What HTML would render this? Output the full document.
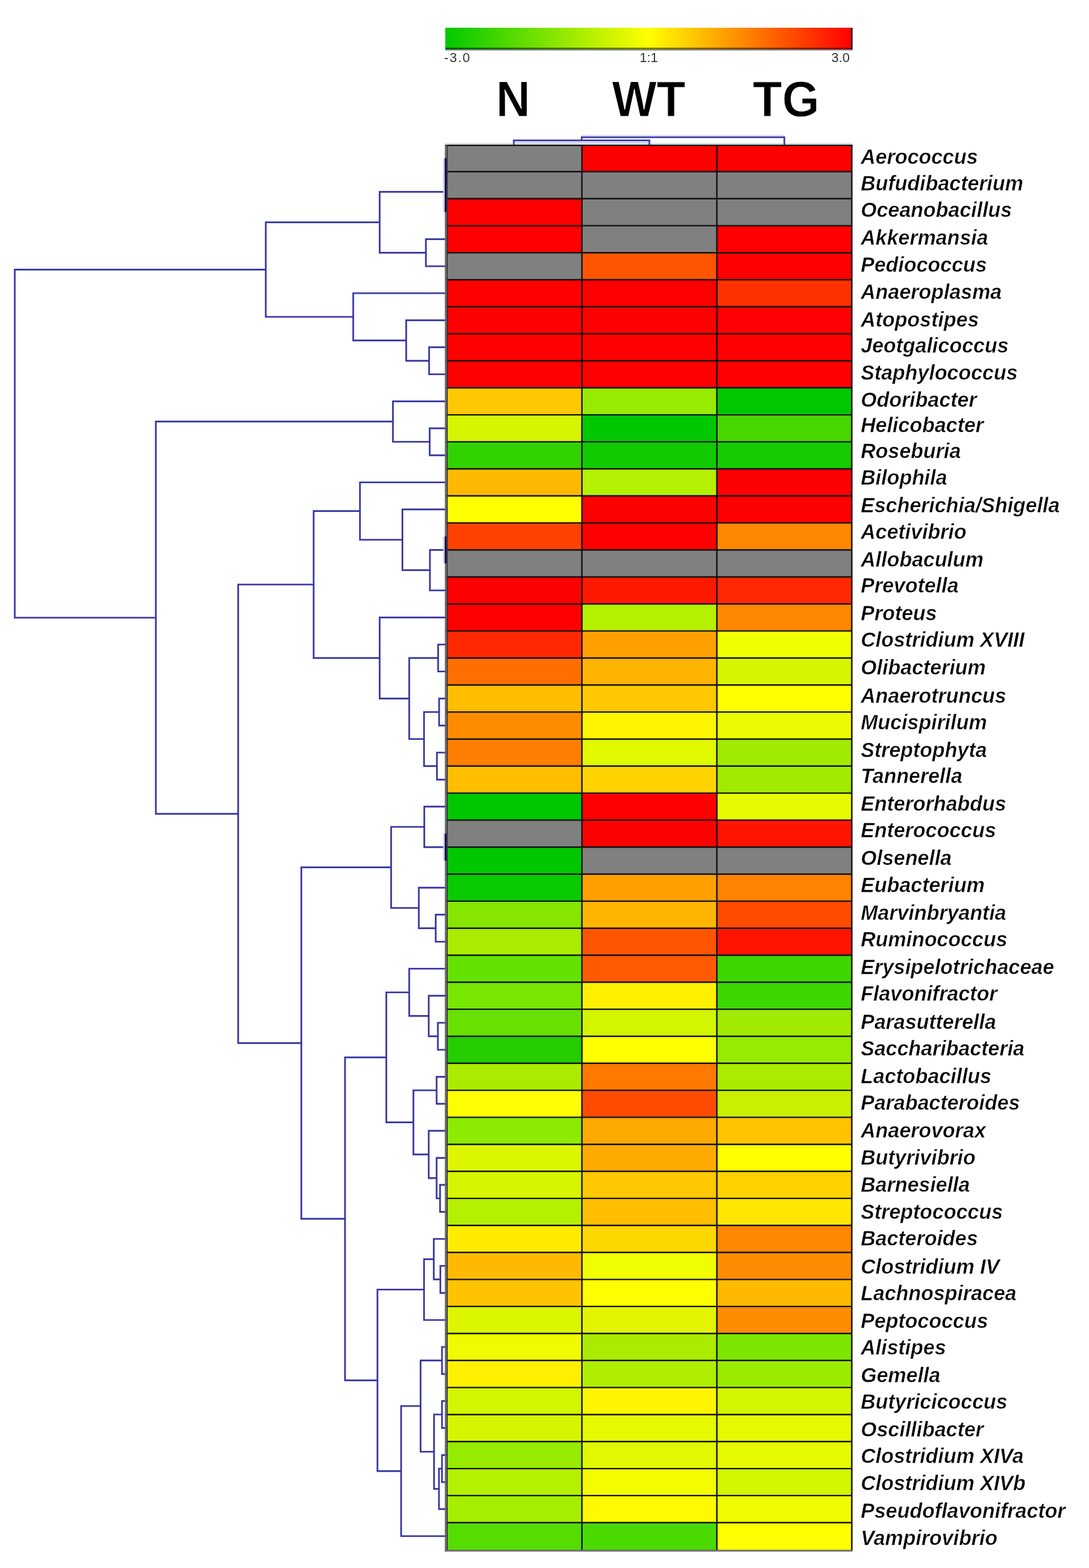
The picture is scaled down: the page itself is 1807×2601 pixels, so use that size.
<!DOCTYPE html><html><head><meta charset="utf-8"><style>html,body{margin:0;padding:0;background:#fff;}svg{display:block}</style></head><body>
<svg width="1807" height="2601" viewBox="0 0 1807 2601">
<defs><linearGradient id="cb" x1="0" x2="1" y1="0" y2="0"><stop offset="0" stop-color="#00c800"/><stop offset="0.5" stop-color="#ffff00"/><stop offset="1" stop-color="#ff0000"/></linearGradient><linearGradient id="cbd" x1="0" x2="1" y1="0" y2="0"><stop offset="0" stop-color="#006000"/><stop offset="0.5" stop-color="#808000"/><stop offset="1" stop-color="#900000"/></linearGradient></defs>
<rect width="1807" height="2601" fill="#fff"/>
<rect x="738.8" y="46" width="674" height="33" fill="url(#cb)"/>
<rect x="738.8" y="79" width="674" height="3" fill="url(#cbd)"/>
<rect x="738.8" y="82" width="676" height="1.8" fill="#80909a"/>
<rect x="1412.2" y="46" width="2.5" height="36" fill="#201010"/>
<g font-family="Liberation Sans, Arial, sans-serif" font-size="22" fill="#333">
<text x="737" y="103" letter-spacing="1.6">-3.0</text>
<text x="1076.5" y="103" text-anchor="middle">1:1</text>
<text x="1410" y="103" text-anchor="end">3.0</text>
</g>
<g font-family="Liberation Sans, Arial, sans-serif" font-size="78.6" font-weight="bold" fill="#000" text-anchor="middle" stroke="#fff" stroke-width="0.9">
<text transform="translate(851.4 193.2) scale(1 1.065)">N</text><text transform="translate(1076.5 193.2) scale(1 1.065)">WT</text><text transform="translate(1304.3 193.2) scale(1.015 1.065)">TG</text>
</g>
<path d="M706.7 396.8L740.0 396.8M706.7 441.6L740.0 441.6M706.7 396.8L706.7 441.6M630.0 318.3L740.0 318.3M630.0 419.2L706.7 419.2M630.0 318.3L630.0 419.2M712.0 576.0L740.0 576.0M712.0 620.9L740.0 620.9M712.0 576.0L712.0 620.9M674.0 531.2L740.0 531.2M674.0 598.5L712.0 598.5M674.0 531.2L674.0 598.5M586.1 486.4L740.0 486.4M586.1 564.8L674.0 564.8M586.1 486.4L586.1 564.8M441.0 368.8L630.0 368.8M441.0 525.6L586.1 525.6M441.0 368.8L441.0 525.6M713.0 710.5L740.0 710.5M713.0 755.3L740.0 755.3M713.0 710.5L713.0 755.3M652.0 665.7L740.0 665.7M652.0 732.9L713.0 732.9M652.0 665.7L652.0 732.9M713.4 912.2L740.0 912.2M713.4 979.4L740.0 979.4M713.4 912.2L713.4 979.4M667.8 845.0L740.0 845.0M667.8 945.8L713.4 945.8M667.8 845.0L667.8 945.8M597.3 800.1L740.0 800.1M597.3 895.4L667.8 895.4M597.3 800.1L597.3 895.4M727.0 1069.1L740.0 1069.1M727.0 1113.9L740.0 1113.9M727.0 1069.1L727.0 1113.9M728.6 1158.7L740.0 1158.7M728.6 1203.5L740.0 1203.5M728.6 1158.7L728.6 1203.5M725.0 1248.4L740.0 1248.4M725.0 1293.2L740.0 1293.2M725.0 1248.4L725.0 1293.2M703.6 1181.1L728.6 1181.1M703.6 1270.8L725.0 1270.8M703.6 1181.1L703.6 1270.8M679.0 1091.5L727.0 1091.5M679.0 1225.9L703.6 1225.9M679.0 1091.5L679.0 1225.9M630.0 1024.2L740.0 1024.2M630.0 1158.7L679.0 1158.7M630.0 1024.2L630.0 1158.7M520.4 847.8L597.3 847.8M520.4 1091.5L630.0 1091.5M520.4 847.8L520.4 1091.5M704.0 1338.0L740.0 1338.0M704.0 1405.2L740.0 1405.2M704.0 1338.0L704.0 1405.2M723.0 1517.3L740.0 1517.3M723.0 1562.1L740.0 1562.1M723.0 1517.3L723.0 1562.1M695.0 1472.5L740.0 1472.5M695.0 1539.7L723.0 1539.7M695.0 1472.5L695.0 1539.7M649.0 1371.6L704.0 1371.6M649.0 1506.1L695.0 1506.1M649.0 1371.6L649.0 1506.1M726.6 1696.6L740.0 1696.6M726.6 1741.4L740.0 1741.4M726.6 1696.6L726.6 1741.4M711.4 1651.7L740.0 1651.7M711.4 1719.0L726.6 1719.0M711.4 1651.7L711.4 1719.0M679.0 1606.9L740.0 1606.9M679.0 1685.3L711.4 1685.3M679.0 1606.9L679.0 1685.3M724.5 1786.2L740.0 1786.2M724.5 1831.0L740.0 1831.0M724.5 1786.2L724.5 1831.0M730.2 1965.5L740.0 1965.5M730.2 2010.3L740.0 2010.3M730.2 1965.5L730.2 2010.3M724.5 1920.7L740.0 1920.7M724.5 1987.9L730.2 1987.9M724.5 1920.7L724.5 1987.9M711.4 1875.8L740.0 1875.8M711.4 1954.3L724.5 1954.3M711.4 1875.8L711.4 1954.3M686.0 1808.6L724.5 1808.6M686.0 1915.0L711.4 1915.0M686.0 1808.6L686.0 1915.0M641.0 1646.1L679.0 1646.1M641.0 1861.8L686.0 1861.8M641.0 1646.1L641.0 1861.8M730.7 2099.9L740.0 2099.9M730.7 2144.8L740.0 2144.8M730.7 2099.9L730.7 2144.8M719.8 2055.1L740.0 2055.1M719.8 2122.3L730.7 2122.3M719.8 2055.1L719.8 2122.3M703.6 2088.7L719.8 2088.7M703.6 2189.6L740.0 2189.6M703.6 2088.7L703.6 2189.6M733.4 2234.4L740.0 2234.4M733.4 2279.2L740.0 2279.2M733.4 2234.4L733.4 2279.2M733.4 2324.0L740.0 2324.0M733.4 2368.8L740.0 2368.8M733.4 2324.0L733.4 2368.8M733.4 2413.7L740.0 2413.7M733.4 2458.5L740.0 2458.5M733.4 2413.7L733.4 2458.5M728.4 2436.1L733.4 2436.1M728.4 2503.3L740.0 2503.3M728.4 2436.1L728.4 2503.3M720.2 2346.4L733.4 2346.4M720.2 2469.7L728.4 2469.7M720.2 2346.4L720.2 2469.7M697.9 2256.8L733.4 2256.8M697.9 2408.1L720.2 2408.1M697.9 2256.8L697.9 2408.1M665.6 2332.4L697.9 2332.4M665.6 2548.1L740.0 2548.1M665.6 2332.4L665.6 2548.1M626.3 2139.1L703.6 2139.1M626.3 2440.3L665.6 2440.3M626.3 2139.1L626.3 2440.3M572.5 1754.0L641.0 1754.0M572.5 2289.7L626.3 2289.7M572.5 1754.0L572.5 2289.7M500.0 1438.8L649.0 1438.8M500.0 2021.8L572.5 2021.8M500.0 1438.8L500.0 2021.8M395.2 969.6L520.4 969.6M395.2 1730.3L500.0 1730.3M395.2 969.6L395.2 1730.3M258.6 699.3L652.0 699.3M258.6 1350.0L395.2 1350.0M258.6 699.3L258.6 1350.0M24.5 447.2L441.0 447.2M24.5 1024.6L258.6 1024.6M24.5 447.2L24.5 1024.6" stroke="#d4d4f0" stroke-width="3.9" fill="none" stroke-linecap="square"/>
<path d="M706.7 396.8L740.0 396.8M706.7 441.6L740.0 441.6M706.7 396.8L706.7 441.6M630.0 318.3L740.0 318.3M630.0 419.2L706.7 419.2M630.0 318.3L630.0 419.2M712.0 576.0L740.0 576.0M712.0 620.9L740.0 620.9M712.0 576.0L712.0 620.9M674.0 531.2L740.0 531.2M674.0 598.5L712.0 598.5M674.0 531.2L674.0 598.5M586.1 486.4L740.0 486.4M586.1 564.8L674.0 564.8M586.1 486.4L586.1 564.8M441.0 368.8L630.0 368.8M441.0 525.6L586.1 525.6M441.0 368.8L441.0 525.6M713.0 710.5L740.0 710.5M713.0 755.3L740.0 755.3M713.0 710.5L713.0 755.3M652.0 665.7L740.0 665.7M652.0 732.9L713.0 732.9M652.0 665.7L652.0 732.9M713.4 912.2L740.0 912.2M713.4 979.4L740.0 979.4M713.4 912.2L713.4 979.4M667.8 845.0L740.0 845.0M667.8 945.8L713.4 945.8M667.8 845.0L667.8 945.8M597.3 800.1L740.0 800.1M597.3 895.4L667.8 895.4M597.3 800.1L597.3 895.4M727.0 1069.1L740.0 1069.1M727.0 1113.9L740.0 1113.9M727.0 1069.1L727.0 1113.9M728.6 1158.7L740.0 1158.7M728.6 1203.5L740.0 1203.5M728.6 1158.7L728.6 1203.5M725.0 1248.4L740.0 1248.4M725.0 1293.2L740.0 1293.2M725.0 1248.4L725.0 1293.2M703.6 1181.1L728.6 1181.1M703.6 1270.8L725.0 1270.8M703.6 1181.1L703.6 1270.8M679.0 1091.5L727.0 1091.5M679.0 1225.9L703.6 1225.9M679.0 1091.5L679.0 1225.9M630.0 1024.2L740.0 1024.2M630.0 1158.7L679.0 1158.7M630.0 1024.2L630.0 1158.7M520.4 847.8L597.3 847.8M520.4 1091.5L630.0 1091.5M520.4 847.8L520.4 1091.5M704.0 1338.0L740.0 1338.0M704.0 1405.2L740.0 1405.2M704.0 1338.0L704.0 1405.2M723.0 1517.3L740.0 1517.3M723.0 1562.1L740.0 1562.1M723.0 1517.3L723.0 1562.1M695.0 1472.5L740.0 1472.5M695.0 1539.7L723.0 1539.7M695.0 1472.5L695.0 1539.7M649.0 1371.6L704.0 1371.6M649.0 1506.1L695.0 1506.1M649.0 1371.6L649.0 1506.1M726.6 1696.6L740.0 1696.6M726.6 1741.4L740.0 1741.4M726.6 1696.6L726.6 1741.4M711.4 1651.7L740.0 1651.7M711.4 1719.0L726.6 1719.0M711.4 1651.7L711.4 1719.0M679.0 1606.9L740.0 1606.9M679.0 1685.3L711.4 1685.3M679.0 1606.9L679.0 1685.3M724.5 1786.2L740.0 1786.2M724.5 1831.0L740.0 1831.0M724.5 1786.2L724.5 1831.0M730.2 1965.5L740.0 1965.5M730.2 2010.3L740.0 2010.3M730.2 1965.5L730.2 2010.3M724.5 1920.7L740.0 1920.7M724.5 1987.9L730.2 1987.9M724.5 1920.7L724.5 1987.9M711.4 1875.8L740.0 1875.8M711.4 1954.3L724.5 1954.3M711.4 1875.8L711.4 1954.3M686.0 1808.6L724.5 1808.6M686.0 1915.0L711.4 1915.0M686.0 1808.6L686.0 1915.0M641.0 1646.1L679.0 1646.1M641.0 1861.8L686.0 1861.8M641.0 1646.1L641.0 1861.8M730.7 2099.9L740.0 2099.9M730.7 2144.8L740.0 2144.8M730.7 2099.9L730.7 2144.8M719.8 2055.1L740.0 2055.1M719.8 2122.3L730.7 2122.3M719.8 2055.1L719.8 2122.3M703.6 2088.7L719.8 2088.7M703.6 2189.6L740.0 2189.6M703.6 2088.7L703.6 2189.6M733.4 2234.4L740.0 2234.4M733.4 2279.2L740.0 2279.2M733.4 2234.4L733.4 2279.2M733.4 2324.0L740.0 2324.0M733.4 2368.8L740.0 2368.8M733.4 2324.0L733.4 2368.8M733.4 2413.7L740.0 2413.7M733.4 2458.5L740.0 2458.5M733.4 2413.7L733.4 2458.5M728.4 2436.1L733.4 2436.1M728.4 2503.3L740.0 2503.3M728.4 2436.1L728.4 2503.3M720.2 2346.4L733.4 2346.4M720.2 2469.7L728.4 2469.7M720.2 2346.4L720.2 2469.7M697.9 2256.8L733.4 2256.8M697.9 2408.1L720.2 2408.1M697.9 2256.8L697.9 2408.1M665.6 2332.4L697.9 2332.4M665.6 2548.1L740.0 2548.1M665.6 2332.4L665.6 2548.1M626.3 2139.1L703.6 2139.1M626.3 2440.3L665.6 2440.3M626.3 2139.1L626.3 2440.3M572.5 1754.0L641.0 1754.0M572.5 2289.7L626.3 2289.7M572.5 1754.0L572.5 2289.7M500.0 1438.8L649.0 1438.8M500.0 2021.8L572.5 2021.8M500.0 1438.8L500.0 2021.8M395.2 969.6L520.4 969.6M395.2 1730.3L500.0 1730.3M395.2 969.6L395.2 1730.3M258.6 699.3L652.0 699.3M258.6 1350.0L395.2 1350.0M258.6 699.3L258.6 1350.0M24.5 447.2L441.0 447.2M24.5 1024.6L258.6 1024.6M24.5 447.2L24.5 1024.6" stroke="#2e2e9e" stroke-width="2.4" fill="none" stroke-linecap="square"/>
<g shape-rendering="crispEdges">
<rect x="740.5" y="240.00" width="225.0" height="44.72" fill="#808080"/>
<rect x="965.5" y="240.00" width="224.0" height="44.72" fill="#ff0000"/>
<rect x="1189.5" y="240.00" width="224.0" height="44.72" fill="#ff0000"/>
<rect x="740.5" y="284.72" width="225.0" height="44.82" fill="#808080"/>
<rect x="965.5" y="284.72" width="224.0" height="44.82" fill="#808080"/>
<rect x="1189.5" y="284.72" width="224.0" height="44.82" fill="#808080"/>
<rect x="740.5" y="329.54" width="225.0" height="44.82" fill="#ff0000"/>
<rect x="965.5" y="329.54" width="224.0" height="44.82" fill="#808080"/>
<rect x="1189.5" y="329.54" width="224.0" height="44.82" fill="#808080"/>
<rect x="740.5" y="374.36" width="225.0" height="44.82" fill="#ff0000"/>
<rect x="965.5" y="374.36" width="224.0" height="44.82" fill="#808080"/>
<rect x="1189.5" y="374.36" width="224.0" height="44.82" fill="#ff0000"/>
<rect x="740.5" y="419.18" width="225.0" height="44.82" fill="#808080"/>
<rect x="965.5" y="419.18" width="224.0" height="44.82" fill="#ff5500"/>
<rect x="1189.5" y="419.18" width="224.0" height="44.82" fill="#ff0000"/>
<rect x="740.5" y="464.00" width="225.0" height="44.82" fill="#ff0000"/>
<rect x="965.5" y="464.00" width="224.0" height="44.82" fill="#ff0000"/>
<rect x="1189.5" y="464.00" width="224.0" height="44.82" fill="#ff3000"/>
<rect x="740.5" y="508.82" width="225.0" height="44.82" fill="#ff0000"/>
<rect x="965.5" y="508.82" width="224.0" height="44.82" fill="#ff0000"/>
<rect x="1189.5" y="508.82" width="224.0" height="44.82" fill="#ff0000"/>
<rect x="740.5" y="553.64" width="225.0" height="44.82" fill="#ff0000"/>
<rect x="965.5" y="553.64" width="224.0" height="44.82" fill="#ff0000"/>
<rect x="1189.5" y="553.64" width="224.0" height="44.82" fill="#ff0000"/>
<rect x="740.5" y="598.46" width="225.0" height="44.82" fill="#ff0000"/>
<rect x="965.5" y="598.46" width="224.0" height="44.82" fill="#ff0000"/>
<rect x="1189.5" y="598.46" width="224.0" height="44.82" fill="#ff0000"/>
<rect x="740.5" y="643.28" width="225.0" height="44.82" fill="#ffc800"/>
<rect x="965.5" y="643.28" width="224.0" height="44.82" fill="#96eb00"/>
<rect x="1189.5" y="643.28" width="224.0" height="44.82" fill="#00c800"/>
<rect x="740.5" y="688.10" width="225.0" height="44.82" fill="#d7f500"/>
<rect x="965.5" y="688.10" width="224.0" height="44.82" fill="#00c800"/>
<rect x="1189.5" y="688.10" width="224.0" height="44.82" fill="#46d700"/>
<rect x="740.5" y="732.92" width="225.0" height="44.82" fill="#32d200"/>
<rect x="965.5" y="732.92" width="224.0" height="44.82" fill="#0fcb00"/>
<rect x="1189.5" y="732.92" width="224.0" height="44.82" fill="#14cc00"/>
<rect x="740.5" y="777.74" width="225.0" height="44.82" fill="#ffb900"/>
<rect x="965.5" y="777.74" width="224.0" height="44.82" fill="#b4f000"/>
<rect x="1189.5" y="777.74" width="224.0" height="44.82" fill="#ff0000"/>
<rect x="740.5" y="822.56" width="225.0" height="44.82" fill="#ffff00"/>
<rect x="965.5" y="822.56" width="224.0" height="44.82" fill="#ff0000"/>
<rect x="1189.5" y="822.56" width="224.0" height="44.82" fill="#ff0000"/>
<rect x="740.5" y="867.38" width="225.0" height="44.82" fill="#ff4100"/>
<rect x="965.5" y="867.38" width="224.0" height="44.82" fill="#ff0000"/>
<rect x="1189.5" y="867.38" width="224.0" height="44.82" fill="#ff8700"/>
<rect x="740.5" y="912.20" width="225.0" height="44.82" fill="#808080"/>
<rect x="965.5" y="912.20" width="224.0" height="44.82" fill="#808080"/>
<rect x="1189.5" y="912.20" width="224.0" height="44.82" fill="#808080"/>
<rect x="740.5" y="957.02" width="225.0" height="44.82" fill="#ff0000"/>
<rect x="965.5" y="957.02" width="224.0" height="44.82" fill="#ff1900"/>
<rect x="1189.5" y="957.02" width="224.0" height="44.82" fill="#ff2800"/>
<rect x="740.5" y="1001.84" width="225.0" height="44.82" fill="#ff0000"/>
<rect x="965.5" y="1001.84" width="224.0" height="44.82" fill="#b4f000"/>
<rect x="1189.5" y="1001.84" width="224.0" height="44.82" fill="#ff8700"/>
<rect x="740.5" y="1046.66" width="225.0" height="44.82" fill="#ff2800"/>
<rect x="965.5" y="1046.66" width="224.0" height="44.82" fill="#ffa000"/>
<rect x="1189.5" y="1046.66" width="224.0" height="44.82" fill="#f0ff00"/>
<rect x="740.5" y="1091.48" width="225.0" height="44.82" fill="#ff6e00"/>
<rect x="965.5" y="1091.48" width="224.0" height="44.82" fill="#ffb400"/>
<rect x="1189.5" y="1091.48" width="224.0" height="44.82" fill="#d7f500"/>
<rect x="740.5" y="1136.30" width="225.0" height="44.82" fill="#ffbe00"/>
<rect x="965.5" y="1136.30" width="224.0" height="44.82" fill="#ffc800"/>
<rect x="1189.5" y="1136.30" width="224.0" height="44.82" fill="#ffff00"/>
<rect x="740.5" y="1181.12" width="225.0" height="44.82" fill="#ff8c00"/>
<rect x="965.5" y="1181.12" width="224.0" height="44.82" fill="#fff500"/>
<rect x="1189.5" y="1181.12" width="224.0" height="44.82" fill="#ebfa00"/>
<rect x="740.5" y="1225.94" width="225.0" height="44.82" fill="#ff7d00"/>
<rect x="965.5" y="1225.94" width="224.0" height="44.82" fill="#e1fa00"/>
<rect x="1189.5" y="1225.94" width="224.0" height="44.82" fill="#a0eb00"/>
<rect x="740.5" y="1270.76" width="225.0" height="44.82" fill="#ffbe00"/>
<rect x="965.5" y="1270.76" width="224.0" height="44.82" fill="#ffd200"/>
<rect x="1189.5" y="1270.76" width="224.0" height="44.82" fill="#a0eb00"/>
<rect x="740.5" y="1315.58" width="225.0" height="44.82" fill="#00c800"/>
<rect x="965.5" y="1315.58" width="224.0" height="44.82" fill="#ff0000"/>
<rect x="1189.5" y="1315.58" width="224.0" height="44.82" fill="#e6fa00"/>
<rect x="740.5" y="1360.40" width="225.0" height="44.82" fill="#808080"/>
<rect x="965.5" y="1360.40" width="224.0" height="44.82" fill="#ff0000"/>
<rect x="1189.5" y="1360.40" width="224.0" height="44.82" fill="#ff1400"/>
<rect x="740.5" y="1405.22" width="225.0" height="44.82" fill="#00c800"/>
<rect x="965.5" y="1405.22" width="224.0" height="44.82" fill="#808080"/>
<rect x="1189.5" y="1405.22" width="224.0" height="44.82" fill="#808080"/>
<rect x="740.5" y="1450.04" width="225.0" height="44.82" fill="#0aca00"/>
<rect x="965.5" y="1450.04" width="224.0" height="44.82" fill="#ffa000"/>
<rect x="1189.5" y="1450.04" width="224.0" height="44.82" fill="#ff8200"/>
<rect x="740.5" y="1494.86" width="225.0" height="44.82" fill="#87e600"/>
<rect x="965.5" y="1494.86" width="224.0" height="44.82" fill="#ffb400"/>
<rect x="1189.5" y="1494.86" width="224.0" height="44.82" fill="#ff4b00"/>
<rect x="740.5" y="1539.68" width="225.0" height="44.82" fill="#aaeb00"/>
<rect x="965.5" y="1539.68" width="224.0" height="44.82" fill="#ff5500"/>
<rect x="1189.5" y="1539.68" width="224.0" height="44.82" fill="#ff1400"/>
<rect x="740.5" y="1584.50" width="225.0" height="44.82" fill="#64e100"/>
<rect x="965.5" y="1584.50" width="224.0" height="44.82" fill="#ff5a00"/>
<rect x="1189.5" y="1584.50" width="224.0" height="44.82" fill="#3cd700"/>
<rect x="740.5" y="1629.32" width="225.0" height="44.82" fill="#78e600"/>
<rect x="965.5" y="1629.32" width="224.0" height="44.82" fill="#fff000"/>
<rect x="1189.5" y="1629.32" width="224.0" height="44.82" fill="#3cd700"/>
<rect x="740.5" y="1674.14" width="225.0" height="44.82" fill="#69e100"/>
<rect x="965.5" y="1674.14" width="224.0" height="44.82" fill="#d2f500"/>
<rect x="1189.5" y="1674.14" width="224.0" height="44.82" fill="#a0eb00"/>
<rect x="740.5" y="1718.96" width="225.0" height="44.82" fill="#23cd00"/>
<rect x="965.5" y="1718.96" width="224.0" height="44.82" fill="#ffff00"/>
<rect x="1189.5" y="1718.96" width="224.0" height="44.82" fill="#96eb00"/>
<rect x="740.5" y="1763.78" width="225.0" height="44.82" fill="#aaeb00"/>
<rect x="965.5" y="1763.78" width="224.0" height="44.82" fill="#ff7800"/>
<rect x="1189.5" y="1763.78" width="224.0" height="44.82" fill="#aaeb00"/>
<rect x="740.5" y="1808.60" width="225.0" height="44.82" fill="#ffff00"/>
<rect x="965.5" y="1808.60" width="224.0" height="44.82" fill="#ff4b00"/>
<rect x="1189.5" y="1808.60" width="224.0" height="44.82" fill="#c8f000"/>
<rect x="740.5" y="1853.42" width="225.0" height="44.82" fill="#8ceb00"/>
<rect x="965.5" y="1853.42" width="224.0" height="44.82" fill="#ffaa00"/>
<rect x="1189.5" y="1853.42" width="224.0" height="44.82" fill="#ffc300"/>
<rect x="740.5" y="1898.24" width="225.0" height="44.82" fill="#dcf500"/>
<rect x="965.5" y="1898.24" width="224.0" height="44.82" fill="#ffaa00"/>
<rect x="1189.5" y="1898.24" width="224.0" height="44.82" fill="#ffff00"/>
<rect x="740.5" y="1943.06" width="225.0" height="44.82" fill="#d7f500"/>
<rect x="965.5" y="1943.06" width="224.0" height="44.82" fill="#ffc800"/>
<rect x="1189.5" y="1943.06" width="224.0" height="44.82" fill="#ffd200"/>
<rect x="740.5" y="1987.88" width="225.0" height="44.82" fill="#b4f000"/>
<rect x="965.5" y="1987.88" width="224.0" height="44.82" fill="#ffbe00"/>
<rect x="1189.5" y="1987.88" width="224.0" height="44.82" fill="#ffe600"/>
<rect x="740.5" y="2032.70" width="225.0" height="44.82" fill="#ffeb00"/>
<rect x="965.5" y="2032.70" width="224.0" height="44.82" fill="#ffd700"/>
<rect x="1189.5" y="2032.70" width="224.0" height="44.82" fill="#ff8700"/>
<rect x="740.5" y="2077.52" width="225.0" height="44.82" fill="#ffb900"/>
<rect x="965.5" y="2077.52" width="224.0" height="44.82" fill="#f0ff00"/>
<rect x="1189.5" y="2077.52" width="224.0" height="44.82" fill="#ff8c00"/>
<rect x="740.5" y="2122.34" width="225.0" height="44.82" fill="#ffc300"/>
<rect x="965.5" y="2122.34" width="224.0" height="44.82" fill="#ffff00"/>
<rect x="1189.5" y="2122.34" width="224.0" height="44.82" fill="#ffb900"/>
<rect x="740.5" y="2167.16" width="225.0" height="44.82" fill="#dcf500"/>
<rect x="965.5" y="2167.16" width="224.0" height="44.82" fill="#e1f500"/>
<rect x="1189.5" y="2167.16" width="224.0" height="44.82" fill="#ff8c00"/>
<rect x="740.5" y="2211.98" width="225.0" height="44.82" fill="#f0fa00"/>
<rect x="965.5" y="2211.98" width="224.0" height="44.82" fill="#aaeb00"/>
<rect x="1189.5" y="2211.98" width="224.0" height="44.82" fill="#7de600"/>
<rect x="740.5" y="2256.80" width="225.0" height="44.82" fill="#fff000"/>
<rect x="965.5" y="2256.80" width="224.0" height="44.82" fill="#afee00"/>
<rect x="1189.5" y="2256.80" width="224.0" height="44.82" fill="#9beb00"/>
<rect x="740.5" y="2301.62" width="225.0" height="44.82" fill="#d2f500"/>
<rect x="965.5" y="2301.62" width="224.0" height="44.82" fill="#fff500"/>
<rect x="1189.5" y="2301.62" width="224.0" height="44.82" fill="#d2f500"/>
<rect x="740.5" y="2346.44" width="225.0" height="44.82" fill="#d7f500"/>
<rect x="965.5" y="2346.44" width="224.0" height="44.82" fill="#e6fa00"/>
<rect x="1189.5" y="2346.44" width="224.0" height="44.82" fill="#e6fa00"/>
<rect x="740.5" y="2391.26" width="225.0" height="44.82" fill="#96eb00"/>
<rect x="965.5" y="2391.26" width="224.0" height="44.82" fill="#e1f800"/>
<rect x="1189.5" y="2391.26" width="224.0" height="44.82" fill="#e6fa00"/>
<rect x="740.5" y="2436.08" width="225.0" height="44.82" fill="#b4f000"/>
<rect x="965.5" y="2436.08" width="224.0" height="44.82" fill="#f5fc00"/>
<rect x="1189.5" y="2436.08" width="224.0" height="44.82" fill="#d2f500"/>
<rect x="740.5" y="2480.90" width="225.0" height="44.82" fill="#a5ee00"/>
<rect x="965.5" y="2480.90" width="224.0" height="44.82" fill="#fffa00"/>
<rect x="1189.5" y="2480.90" width="224.0" height="44.82" fill="#f0fc00"/>
<rect x="740.5" y="2525.72" width="225.0" height="46.28" fill="#55dc00"/>
<rect x="965.5" y="2525.72" width="224.0" height="46.28" fill="#4bda00"/>
<rect x="1189.5" y="2525.72" width="224.0" height="46.28" fill="#ffff00"/>
</g>
<rect x="738" y="237.2" width="676" height="2.8" fill="#d8dcd8"/>
<g stroke="#111" stroke-width="2.4">
<line x1="740.5" y1="284.72" x2="1413.5" y2="284.72"/>
<line x1="740.5" y1="329.54" x2="1413.5" y2="329.54"/>
<line x1="740.5" y1="374.36" x2="1413.5" y2="374.36"/>
<line x1="740.5" y1="419.18" x2="1413.5" y2="419.18"/>
<line x1="740.5" y1="464.00" x2="1413.5" y2="464.00"/>
<line x1="740.5" y1="508.82" x2="1413.5" y2="508.82"/>
<line x1="740.5" y1="553.64" x2="1413.5" y2="553.64"/>
<line x1="740.5" y1="598.46" x2="1413.5" y2="598.46"/>
<line x1="740.5" y1="643.28" x2="1413.5" y2="643.28"/>
<line x1="740.5" y1="688.10" x2="1413.5" y2="688.10"/>
<line x1="740.5" y1="732.92" x2="1413.5" y2="732.92"/>
<line x1="740.5" y1="777.74" x2="1413.5" y2="777.74"/>
<line x1="740.5" y1="822.56" x2="1413.5" y2="822.56"/>
<line x1="740.5" y1="867.38" x2="1413.5" y2="867.38"/>
<line x1="740.5" y1="912.20" x2="1413.5" y2="912.20"/>
<line x1="740.5" y1="957.02" x2="1413.5" y2="957.02"/>
<line x1="740.5" y1="1001.84" x2="1413.5" y2="1001.84"/>
<line x1="740.5" y1="1046.66" x2="1413.5" y2="1046.66"/>
<line x1="740.5" y1="1091.48" x2="1413.5" y2="1091.48"/>
<line x1="740.5" y1="1136.30" x2="1413.5" y2="1136.30"/>
<line x1="740.5" y1="1181.12" x2="1413.5" y2="1181.12"/>
<line x1="740.5" y1="1225.94" x2="1413.5" y2="1225.94"/>
<line x1="740.5" y1="1270.76" x2="1413.5" y2="1270.76"/>
<line x1="740.5" y1="1315.58" x2="1413.5" y2="1315.58"/>
<line x1="740.5" y1="1360.40" x2="1413.5" y2="1360.40"/>
<line x1="740.5" y1="1405.22" x2="1413.5" y2="1405.22"/>
<line x1="740.5" y1="1450.04" x2="1413.5" y2="1450.04"/>
<line x1="740.5" y1="1494.86" x2="1413.5" y2="1494.86"/>
<line x1="740.5" y1="1539.68" x2="1413.5" y2="1539.68"/>
<line x1="740.5" y1="1584.50" x2="1413.5" y2="1584.50"/>
<line x1="740.5" y1="1629.32" x2="1413.5" y2="1629.32"/>
<line x1="740.5" y1="1674.14" x2="1413.5" y2="1674.14"/>
<line x1="740.5" y1="1718.96" x2="1413.5" y2="1718.96"/>
<line x1="740.5" y1="1763.78" x2="1413.5" y2="1763.78"/>
<line x1="740.5" y1="1808.60" x2="1413.5" y2="1808.60"/>
<line x1="740.5" y1="1853.42" x2="1413.5" y2="1853.42"/>
<line x1="740.5" y1="1898.24" x2="1413.5" y2="1898.24"/>
<line x1="740.5" y1="1943.06" x2="1413.5" y2="1943.06"/>
<line x1="740.5" y1="1987.88" x2="1413.5" y2="1987.88"/>
<line x1="740.5" y1="2032.70" x2="1413.5" y2="2032.70"/>
<line x1="740.5" y1="2077.52" x2="1413.5" y2="2077.52"/>
<line x1="740.5" y1="2122.34" x2="1413.5" y2="2122.34"/>
<line x1="740.5" y1="2167.16" x2="1413.5" y2="2167.16"/>
<line x1="740.5" y1="2211.98" x2="1413.5" y2="2211.98"/>
<line x1="740.5" y1="2256.80" x2="1413.5" y2="2256.80"/>
<line x1="740.5" y1="2301.62" x2="1413.5" y2="2301.62"/>
<line x1="740.5" y1="2346.44" x2="1413.5" y2="2346.44"/>
<line x1="740.5" y1="2391.26" x2="1413.5" y2="2391.26"/>
<line x1="740.5" y1="2436.08" x2="1413.5" y2="2436.08"/>
<line x1="740.5" y1="2480.90" x2="1413.5" y2="2480.90"/>
<line x1="740.5" y1="2525.72" x2="1413.5" y2="2525.72"/>
<line x1="965.6" y1="240" x2="965.6" y2="2572"/>
<line x1="1189.5" y1="240" x2="1189.5" y2="2572"/>
</g>
<line x1="738" y1="241.2" x2="1414.7" y2="241.2" stroke="#111" stroke-width="2.3"/>
<line x1="1413.4" y1="240" x2="1413.4" y2="2572" stroke="#221a1a" stroke-width="2.6"/>
<line x1="741.8" y1="240" x2="741.8" y2="2572" stroke="#333" stroke-width="2.1"/>
<line x1="739.4" y1="240" x2="739.4" y2="2573.7" stroke="#68686e" stroke-width="2.6"/>
<line x1="738" y1="2572.2" x2="1414.7" y2="2572.2" stroke="#6e6e6e" stroke-width="3"/>
<rect x="852.6" y="234" width="224.9" height="3.3" fill="#d2d2ec"/>
<rect x="965.3" y="223.8" width="336.2" height="2.5" fill="#dcdcf0"/>
<g stroke="#d4d4f0" stroke-width="4.2" fill="none">
<path d="M852.6 240V232.9H1077.5V240"/>
<path d="M965.3 232.9V227.6H1301.5V240"/>
</g>
<g stroke="#2e2e9e" stroke-width="2.3" fill="none">
<path d="M852.6 240V232.9H1077.5V240"/>
<path d="M965.3 232.9V227.6H1301.5V240"/>
</g>
<line x1="736.6" y1="262.3" x2="736.6" y2="307.1" stroke="#c4c4ec" stroke-width="2.6"/>
<line x1="739.4" y1="262.3" x2="739.4" y2="307.1" stroke="#0c0c48" stroke-width="2.8"/>
<line x1="736.6" y1="284.7" x2="736.6" y2="351.9" stroke="#c4c4ec" stroke-width="2.6"/>
<line x1="739.4" y1="284.7" x2="739.4" y2="351.9" stroke="#0c0c48" stroke-width="2.8"/>
<line x1="736.6" y1="889.8" x2="736.6" y2="934.6" stroke="#c4c4ec" stroke-width="2.6"/>
<line x1="739.4" y1="889.8" x2="739.4" y2="934.6" stroke="#0c0c48" stroke-width="2.8"/>
<line x1="736.6" y1="1382.8" x2="736.6" y2="1427.6" stroke="#c4c4ec" stroke-width="2.6"/>
<line x1="739.4" y1="1382.8" x2="739.4" y2="1427.6" stroke="#0c0c48" stroke-width="2.8"/>
<g font-family="Liberation Sans, Arial, sans-serif" font-size="35" font-weight="bold" font-style="italic" fill="#000" stroke="#fff" stroke-width="0.5">
<text transform="translate(1428.3 272.2) scale(0.97 1)">Aerococcus</text>
<text transform="translate(1428.3 316.3) scale(0.97 1)">Bufudibacterium</text>
<text transform="translate(1428.3 360.3) scale(0.97 1)">Oceanobacillus</text>
<text transform="translate(1428.3 405.8) scale(0.97 1)">Akkermansia</text>
<text transform="translate(1428.3 450.8) scale(0.97 1)">Pediococcus</text>
<text transform="translate(1428.3 495.9) scale(0.97 1)">Anaeroplasma</text>
<text transform="translate(1428.3 541.5) scale(0.97 1)">Atopostipes</text>
<text transform="translate(1428.3 584.9) scale(0.97 1)">Jeotgalicoccus</text>
<text transform="translate(1428.3 630.0) scale(0.97 1)">Staphylococcus</text>
<text transform="translate(1428.3 674.6) scale(0.97 1)">Odoribacter</text>
<text transform="translate(1428.3 716.7) scale(0.97 1)">Helicobacter</text>
<text transform="translate(1428.3 760.1) scale(0.97 1)">Roseburia</text>
<text transform="translate(1428.3 804.4) scale(0.97 1)">Bilophila</text>
<text transform="translate(1428.3 849.8) scale(0.97 1)">Escherichia/Shigella</text>
<text transform="translate(1428.3 894.4) scale(0.97 1)">Acetivibrio</text>
<text transform="translate(1428.3 939.8) scale(0.97 1)">Allobaculum</text>
<text transform="translate(1428.3 983.3) scale(0.97 1)">Prevotella</text>
<text transform="translate(1428.3 1029.0) scale(0.97 1)">Proteus</text>
<text transform="translate(1428.3 1073.0) scale(0.97 1)">Clostridium XVIII</text>
<text transform="translate(1428.3 1119.3) scale(0.97 1)">Olibacterium</text>
<text transform="translate(1428.3 1165.7) scale(0.97 1)">Anaerotruncus</text>
<text transform="translate(1428.3 1209.8) scale(0.97 1)">Mucispirilum</text>
<text transform="translate(1428.3 1255.8) scale(0.97 1)">Streptophyta</text>
<text transform="translate(1428.3 1299.3) scale(0.97 1)">Tannerella</text>
<text transform="translate(1428.3 1344.9) scale(0.97 1)">Enterorhabdus</text>
<text transform="translate(1428.3 1389.3) scale(0.97 1)">Enterococcus</text>
<text transform="translate(1428.3 1435.4) scale(0.97 1)">Olsenella</text>
<text transform="translate(1428.3 1479.6) scale(0.97 1)">Eubacterium</text>
<text transform="translate(1428.3 1526.3) scale(0.97 1)">Marvinbryantia</text>
<text transform="translate(1428.3 1570.3) scale(0.97 1)">Ruminococcus</text>
<text transform="translate(1428.3 1616.4) scale(0.97 1)">Erysipelotrichaceae</text>
<text transform="translate(1428.3 1660.4) scale(0.97 1)">Flavonifractor</text>
<text transform="translate(1428.3 1706.5) scale(0.97 1)">Parasutterella</text>
<text transform="translate(1428.3 1751.3) scale(0.97 1)">Saccharibacteria</text>
<text transform="translate(1428.3 1796.6) scale(0.97 1)">Lactobacillus</text>
<text transform="translate(1428.3 1841.0) scale(0.97 1)">Parabacteroides</text>
<text transform="translate(1428.3 1886.6) scale(0.97 1)">Anaerovorax</text>
<text transform="translate(1428.3 1931.7) scale(0.97 1)">Butyrivibrio</text>
<text transform="translate(1428.3 1976.7) scale(0.97 1)">Barnesiella</text>
<text transform="translate(1428.3 2021.8) scale(0.97 1)">Streptococcus</text>
<text transform="translate(1428.3 2066.4) scale(0.97 1)">Bacteroides</text>
<text transform="translate(1428.3 2112.5) scale(0.97 1)">Clostridium IV</text>
<text transform="translate(1428.3 2157.3) scale(0.97 1)">Lachnospiracea</text>
<text transform="translate(1428.3 2202.6) scale(0.97 1)">Peptococcus</text>
<text transform="translate(1428.3 2247.0) scale(0.97 1)">Alistipes</text>
<text transform="translate(1428.3 2292.9) scale(0.97 1)">Gemella</text>
<text transform="translate(1428.3 2336.9) scale(0.97 1)">Butyricicoccus</text>
<text transform="translate(1428.3 2383.1) scale(0.97 1)">Oscillibacter</text>
<text transform="translate(1428.3 2427.0) scale(0.97 1)">Clostridium XIVa</text>
<text transform="translate(1428.3 2472.4) scale(0.97 1)">Clostridium XIVb</text>
<text transform="translate(1428.3 2518.0) scale(0.97 1)">Pseudoflavonifractor</text>
<text transform="translate(1428.3 2563.2) scale(0.97 1)">Vampirovibrio</text>
</g>
</svg></body></html>
